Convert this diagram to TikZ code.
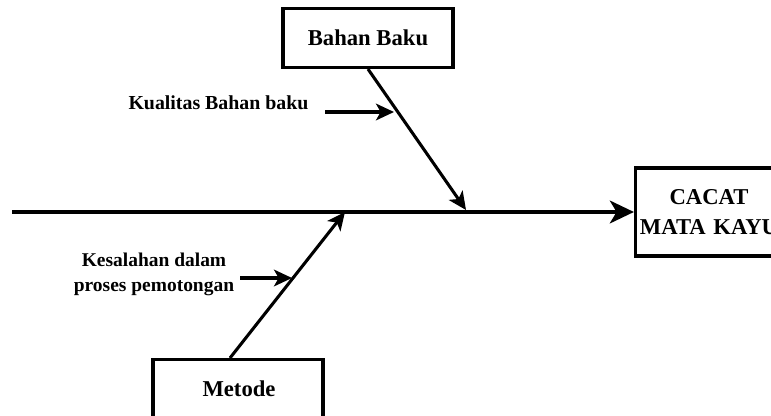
\documentclass[tikz,border=0pt]{standalone}
\usepackage{fontspec}
\setmainfont{Liberation Serif}
\usetikzlibrary{arrows.meta}

\tikzset{every picture/.style={line width=0.75pt}}
\tikzset{
  causebox/.style={draw,line width=2.6pt,fill=white,inner sep=0pt,font=\bfseries\fontsize{17}{22.5}\selectfont,align=center},
  bone/.style={line width=2.3pt,-{Stealth[length=13.5pt,width=12.5pt,inset=3.5pt]}},
  spine/.style={line width=3.3pt,-{Stealth[length=18pt,width=17pt,inset=5pt]}},
  causetext/.style={inner sep=0.75pt,font=\bfseries\fontsize{14.6}{18.75}\selectfont,align=center}
}

\begin{document}
\begin{tikzpicture}[x=0.75pt,y=0.75pt,yscale=-1,xscale=1]
\useasboundingbox (0,0) rectangle (771,416);

%Shape: Rectangle [id:bahan]
\node [causebox,minimum width=127.5pt,minimum height=44pt] (bahan) at (368,38) {Bahan Baku};
%Shape: Rectangle [id:cacat]
\node [causebox,minimum width=110pt,minimum height=66pt,text width=110pt] (cacat) at (709,212) {CACAT\\MATA KAYU};
%Shape: Rectangle [id:metode]
\node [causebox,minimum width=127.5pt,minimum height=52pt,anchor=north] (metode) at (238,358) {};
\node [causetext,font=\bfseries\fontsize{17}{20}\selectfont] (metodetext) at (239,389) {Metode};

% Spine
\coordinate (ekor) at (12,212);
\draw [spine] (ekor) -- (cacat.west);

% Bahan Baku bone
\coordinate (bahanend) at (466,210);
\draw [bone] (bahan.south) -- (bahanend);
% Text Node
\node [causetext,anchor=west,font=\bfseries\fontsize{14.9}{18}\selectfont] (kualitas) at (127,103) {Kualitas Bahan baku};
\coordinate (kualitasend) at (394,112);
\coordinate (kualitasstart) at (325,112);
\draw [bone] (kualitasstart) -- (kualitasend);

% Metode bone
\coordinate (metodestart) at (230,358);
\coordinate (metodeend) at (345,212);
\draw [bone] (metodestart) -- (metodeend);
% Text Node
\node [causetext] (kesalahan) at (154,274) {Kesalahan dalam\\proses pemotongan};
\coordinate (kesalahanstart) at (240,278);
\coordinate (kesalahanend) at (292,278);
\draw [bone] (kesalahanstart) -- (kesalahanend);

\end{tikzpicture}
\end{document}
